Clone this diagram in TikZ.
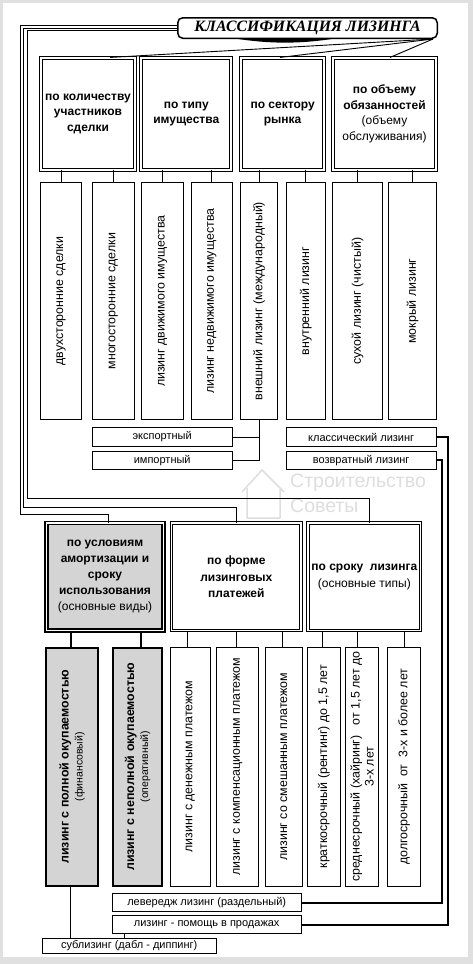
\documentclass[tikz,border=0pt]{standalone}
\usepackage{fontspec}
\setmainfont{Liberation Sans}
\newfontfamily\titlefont{Liberation Serif}
\usetikzlibrary{fit,calc}
\newcommand\mkbox[6]{\node[fit={(#3,#4) (#5,#6)}, inner sep=0pt, #2] (#1) {};}
\begin{document}
\begin{tikzpicture}[x=1pt,y=-1pt,
  hdr/.style={draw, double, line width=1.1pt, double distance=1.7pt},
  vbox/.style={draw, line width=1.1pt},
  gbox/.style={draw, line width=2.2pt, fill=black!17},
  sbox/.style={draw, line width=1.1pt},
  htxt/.style={align=center, font=\fontsize{12}{15.5}\selectfont, inner sep=0pt},
  vtxt/.style={rotate=90, align=center, font=\fontsize{12.4}{14}\selectfont, inner sep=0pt},
  stxt/.style={font=\fontsize{11}{13}\selectfont, inner sep=0pt},
  conn/.style={line width=0.9pt},
  tconn/.style={line width=2pt},
]
\fill[black!12] (0,0) rectangle (473,964);
\fill[white] (3,3) rectangle (468,957);
\useasboundingbox (0,0) rectangle (473,964);

% watermark
\node[anchor=west, text=black!13, font=\fontsize{19.5}{22}\selectfont, inner sep=0pt] (wm1) at (290,483) {Строительство};
\node[anchor=west, text=black!13, font=\fontsize{19.5}{22}\selectfont, inner sep=0pt] (wm2) at (290,506) {Советы};
\draw[black!13, line width=1.5pt, line join=round] (242,492) -- (262,470) -- (284,492) (247,488) -- (247,518) -- (280,518) -- (280,488);

% title shadow and title
\fill[black] (235,38.5) .. controls (270,44) and (300,44) .. (335,38.5) -- cycle;
\node[draw, rounded corners=5pt, line width=1.5pt, fill=white, minimum width=259.5pt, minimum height=20.5pt, inner sep=0pt, font=\titlefont\bfseries\itshape\fontsize{15.8}{16}\selectfont] (title) at (307.5,28) {КЛАССИФИКАЦИЯ ЛИЗИНГА};

% top headers
\mkbox{T1}{hdr}{41.3}{58}{134.7}{169.7}
\mkbox{T2}{hdr}{141.3}{58}{231.3}{169.7}
\mkbox{T3}{hdr}{241.3}{58}{324}{169.7}
\mkbox{T4}{hdr}{332.7}{58}{436.3}{169.7}
\node[htxt] (T1t) at (T1.center) {\textbf{по количеству}\\\textbf{участников}\\\textbf{сделки}};
\node[htxt] (T2t) at (T2.center) {\textbf{по типу}\\\textbf{имущества}};
\node[htxt] (T3t) at (T3.center) {\textbf{по сектору}\\\textbf{рынка}};
\node[htxt] (T4t) at (T4.center) {\textbf{по объему}\\\textbf{обязанностей}\\(объему\\обслуживания)};

% fan lines from title
\coordinate (fan) at (433,39);
\draw[conn] (fan) -- (T1.north -| 110,0);
\draw[conn] (fan) -- (T3.north -| 280,0);
\draw[conn] (fan) -- (T4.north -| 390,0);

% vertical row 1
\mkbox{V1}{vbox}{40.5}{182.8}{81.8}{419.5}
\mkbox{V2}{vbox}{92.2}{182.8}{134.5}{419.5}
\mkbox{V3}{vbox}{141.5}{182.8}{183.8}{419.5}
\mkbox{V4}{vbox}{191.2}{182.8}{232.2}{419.5}
\mkbox{V5}{vbox}{240.5}{182.8}{277.8}{419.5}
\mkbox{V6}{vbox}{286.2}{182.8}{325.5}{419.5}
\mkbox{V7}{vbox}{332.8}{182.8}{382.2}{419.5}
\mkbox{V8}{vbox}{388.8}{182.8}{436.2}{419.5}
\node[vtxt] (V1t) at (V1.center) {двухсторонние сделки};
\node[vtxt] (V2t) at (V2.center) {многосторонние сделки};
\node[vtxt] (V3t) at (V3.center) {лизинг движимого имущества};
\node[vtxt] (V4t) at (V4.center) {лизинг недвижимого имущества};
\node[vtxt] (V5t) at (V5.center) {внешний лизинг (международный)};
\node[vtxt] (V6t) at (V6.center) {внутренний лизинг};
\node[vtxt] (V7t) at (V7.center) {сухой лизинг (чистый)};
\node[vtxt] (V8t) at (V8.center) {мокрый лизинг};
\foreach \t/\v in {T1/V1,T1/V2,T2/V3,T2/V4,T3/V5,T3/V6,T4/V7,T4/V8}
  \draw[conn] (\v.north |- \t.south) -- (\v.north);

% small boxes row 1
\mkbox{eksp}{sbox}{92.2}{427.8}{232.2}{446.2}
\mkbox{imp}{sbox}{92.2}{451.2}{232.2}{469.5}
\mkbox{klass}{sbox}{286.2}{427.8}{436.2}{446.2}
\mkbox{vozvr}{sbox}{286.2}{451.2}{436.2}{469.5}
\node[stxt] (ekspt) at (eksp.center) {экспортный};
\node[stxt] (impt) at (imp.center) {импортный};
\node[stxt] (klasst) at (klass.center) {классический лизинг};
\node[stxt] (vozvrt) at (vozvr.center) {возвратный лизинг};
\draw[conn] (V5.south) -- (V5.south |- imp.east) -- (imp.east);
\draw[conn] (eksp.east) -- (eksp.east -| V5.south);

% bottom headers
\mkbox{B1}{hdr, line width=1.4pt, double distance=1.5pt, fill=black!17}{46.5}{523.2}{163.5}{630.5}
\mkbox{B2}{hdr}{171.5}{523.2}{301.1}{630.5}
\mkbox{B3}{hdr}{308.2}{523.2}{420.5}{630.5}
\node[htxt, font=\fontsize{12}{16}\selectfont] (B1t) at (B1.center) {\textbf{по условиям}\\\textbf{амортизации и}\\\textbf{сроку}\\\textbf{использования}\\(основные виды)};
\node[htxt, font=\fontsize{12}{16.5}\selectfont] (B2t) at (B2.center) {\textbf{по форме}\\\textbf{лизинговых}\\\textbf{платежей}};
\node[htxt, font=\fontsize{12}{16.5}\selectfont] (B3t) at (B3.center) {\textbf{по сроку\ \ лизинга}\\(основные типы)};

% left triple connectors
\draw[conn] (title.west |- 0,25.5) -| (20,514) -| (B1.north -| 108,0);
\draw[conn] (title.west |- 0,28) -| (23.5,507) -| (B2.north -| 236,0);
\draw[conn] (title.west |- 0,30.5) -| (27,498) -| (B3.north -| 369,0);

% vertical row 2
\mkbox{W1}{gbox}{46.1}{647.8}{98.2}{885.6}
\mkbox{W2}{gbox}{112.8}{647.8}{162.2}{885.6}
\mkbox{W3}{vbox}{170.5}{647.2}{210.2}{886.2}
\mkbox{W4}{vbox}{216.5}{647.2}{258.8}{886.2}
\mkbox{W5}{vbox}{265.5}{647.2}{302.2}{886.2}
\mkbox{W6}{vbox}{307.2}{647.2}{340.2}{886.2}
\mkbox{W7}{vbox}{345.5}{647.2}{378.8}{886.2}
\mkbox{W8}{vbox}{387.8}{647.2}{420.2}{886.2}
\node[vtxt] (W1t) at (W1.center) {\textbf{лизинг с полной окупаемостью}\\{\fontsize{10.5}{13}\selectfont(финансовый)}};
\node[vtxt] (W2t) at (W2.center) {\textbf{лизинг с неполной окупаемостью}\\{\fontsize{10.5}{13}\selectfont(оперативный)}};
\node[vtxt] (W3t) at (W3.center) {лизинг с денежным платежом};
\node[vtxt] (W4t) at (W4.center) {лизинг с компенсационным платежом};
\node[vtxt] (W5t) at (W5.center) {лизинг со смешанным платежом};
\node[vtxt] (W6t) at (W6.center) {краткосрочный (рентинг) до 1,5 лет};
\node[vtxt] (W7t) at (W7.center) {среднесрочный (хайринг)\ \ \ от 1,5 лет до\\3-х лет};
\node[vtxt] (W8t) at (W8.center) {долгосрочный\ \ от\ \ 3-х и более лет};
\draw[tconn] (B1.south -| 71,0) -- (W1.north -| 71,0);
\draw[tconn] (B1.south -| 141,0) -- (W2.north -| 141,0);
\foreach \v/\xx in {W3/187.7,W4/236,W5/282.7,W6/322.7,W7/357.7,W8/404.3}
  \draw[conn] (B2.south -| \xx,0) -- (\v.north -| \xx,0);

% bottom small boxes
\mkbox{lever}{sbox}{112.2}{893.8}{301.2}{911.2}
\mkbox{pomosh}{sbox}{112.2}{915.5}{301.2}{933.8}
\mkbox{sub}{sbox}{42.2}{938.2}{216.2}{953.5}
\node[stxt] (levert) at (lever.center) {левередж лизинг (раздельный)};
\node[stxt] (pomosht) at (pomosh.center) {лизинг - помощь в продажах};
\node[stxt] (subt) at (sub.center) {сублизинг (дабл - диппинг)};
\draw[conn] (W1.south -| 70,0) -- (sub.north -| 70,0);
\draw[conn] (pomosh.south -| 124,0) -- (sub.north -| 124,0);

% right thick connectors
\draw[tconn] (klass.east) -| (pomosh.east -| 448,0) -- (pomosh.east);
\draw[tconn] (vozvr.east) -| (lever.east -| 442,0) -- (lever.east);
\end{tikzpicture}
\end{document}
